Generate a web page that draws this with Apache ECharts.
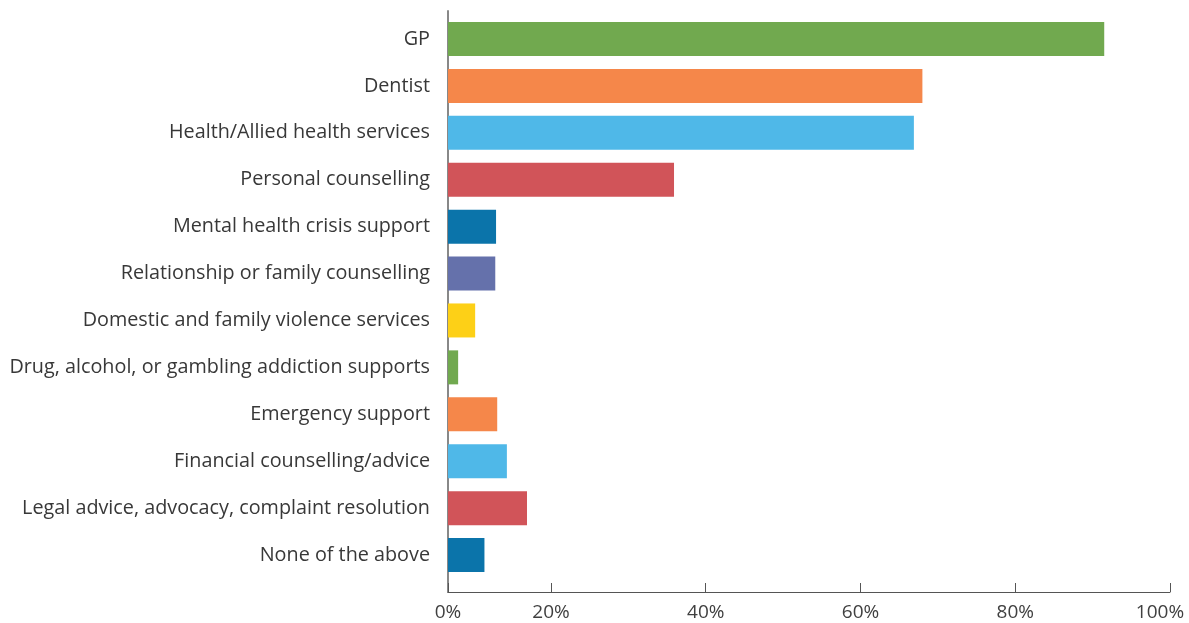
<!DOCTYPE html>
<html>
<head>
<meta charset="utf-8">
<script src="https://cdn.jsdelivr.net/npm/echarts@6/dist/echarts.min.js"></script>
<style>
  html, body { margin: 0; padding: 0; background: #fff; }
  #chart { width: 1189px; height: 623px; }
</style>
</head>
<body>
<div id="chart"></div>
<script>
// Services used, share of respondents (%)
const categories = [
  'GP',
  'Dentist',
  'Health/Allied health services',
  'Personal counselling',
  'Mental health crisis support',
  'Relationship or family counselling',
  'Domestic and family violence services',
  'Drug, alcohol, or gambling addiction supports',
  'Emergency support',
  'Financial counselling/advice',
  'Legal advice, advocacy, complaint resolution',
  'None of the above'
];
const values = [91.5, 68.0, 66.9, 35.9, 12.9, 12.8, 10.2, 8.0, 13.05, 14.3, 16.9, 11.4];
const barColors = [
  '#71A94F', '#F5874A', '#4FB8E8', '#D15459', '#0B74AA', '#6571AB',
  '#FDD017', '#71A94F', '#F5874A', '#4FB8E8', '#D15459', '#0B74AA'
];
// Axis starts a little above zero; the first tick is labelled as the origin.
const axisStart = 6.69;
const axisEnd = 100;
const tickValues = [axisStart, 20, 40, 60, 80, 100];
const tickLabels = ['0%', '20%', '40%', '60%', '80%', '100%'];

const FONT = '"Open Sans", Lato, sans-serif';
const AXIS_COLOR = '#555555';
const TICK_LABEL_STYLE = { color: '#404040', fontFamily: FONT, fontSize: 19 };

const chart = echarts.init(document.getElementById('chart'), null, { renderer: 'canvas' });

chart.setOption({
  animation: false,
  backgroundColor: '#ffffff',
  grid: [
    // bars
    { left: 448, right: 19, top: 15.5, bottom: 44.5, outerBoundsMode: 'none', containLabel: false },
    // axis frame
    { left: 448, right: 19, top: 11, bottom: 31, outerBoundsMode: 'none', containLabel: false }
  ],
  xAxis: [
    {
      gridIndex: 0, type: 'value', min: axisStart, max: axisEnd,
      axisLine: { show: false }, axisTick: { show: false },
      axisLabel: { show: false }, splitLine: { show: false }
    },
    {
      gridIndex: 1, type: 'value', min: axisStart, max: axisEnd,
      axisLine: { show: true, onZero: false, lineStyle: { color: AXIS_COLOR, width: 1 } },
      axisTick: {
        show: true, inside: true, length: 9,
        customValues: tickValues,
        lineStyle: { color: AXIS_COLOR, width: 1 }
      },
      axisLabel: {
        show: true, margin: 11,
        customValues: tickValues,
        hideOverlap: false,
        formatter: function (v) {
          const i = tickValues.findIndex(t => Math.abs(t - v) < 1e-6);
          if (i < 0) return '';
          // keep the last label inside the canvas
          return i === tickValues.length - 1 ? '{end|' + tickLabels[i] + '}' : '{tick|' + tickLabels[i] + '}';
        },
        rich: {
          tick: Object.assign({}, TICK_LABEL_STYLE),
          end: Object.assign({ padding: [0, 20, 0, 0] }, TICK_LABEL_STYLE)
        }
      },
      splitLine: { show: false }
    }
  ],
  yAxis: [
    {
      gridIndex: 0, type: 'category', data: categories, inverse: true,
      axisLine: { show: false }, axisTick: { show: false },
      axisLabel: {
        margin: 18, color: '#383838', fontFamily: FONT, fontSize: 19.8,
        padding: [4, 0, 0, 0]
      },
      splitLine: { show: false }
    },
    {
      gridIndex: 1, type: 'value', min: 0, max: 1,
      axisLine: { show: true, onZero: false, lineStyle: { color: '#888888', width: 2 } },
      axisTick: { show: false }, axisLabel: { show: false }, splitLine: { show: false }
    }
  ],
  series: [
    {
      type: 'bar',
      xAxisIndex: 0, yAxisIndex: 0,
      data: values.map((v, i) => ({ value: v, itemStyle: { color: barColors[i] } })),
      barWidth: 34,
      clip: true
    }
  ]
});
</script>
</body>
</html>
